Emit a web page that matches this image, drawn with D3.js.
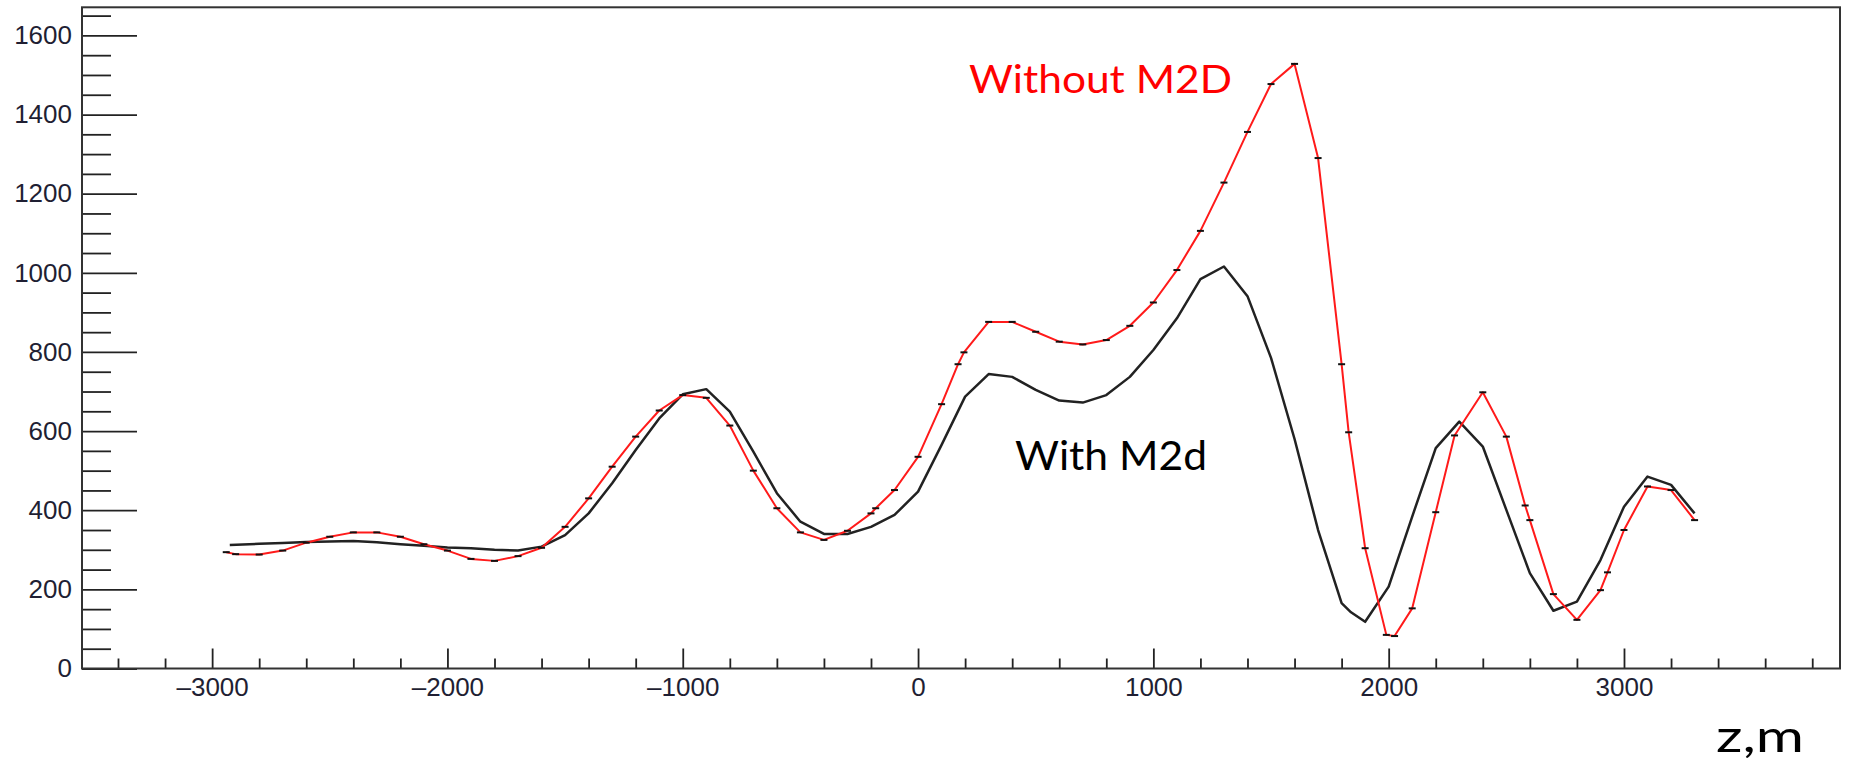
<!DOCTYPE html>
<html>
<head>
<meta charset="utf-8">
<script src="https://cdn.jsdelivr.net/npm/d3@7"></script>
<style>
  html, body { margin: 0; padding: 0; background: #fff; }
  svg { display: block; }
</style>
</head>
<body>
<svg id="chart" width="1849" height="765"></svg>
<script>
// ---- data ----
const zRed = [-2940, -2900, -2800, -2700, -2600, -2500, -2400, -2300, -2200, -2100,
  -2000, -1900, -1800, -1700, -1600, -1500, -1400, -1300, -1200, -1100,
  -1000, -900, -800, -700, -600, -500, -400, -300, -200, -180,
  -100, 0, 100, 170, 195, 300, 400, 500, 600, 700,
  800, 900, 1000, 1100, 1200, 1300, 1400, 1500, 1600, 1700,
  1800, 1830, 1900, 1990, 2025, 2100, 2200, 2280, 2400, 2500,
  2580, 2600, 2700, 2800, 2900, 2930, 3000, 3100, 3200, 3300];
const vRed = [294, 289, 288, 298, 318, 333, 344, 344, 333, 314,
  298, 277, 272, 284, 305, 358, 430, 510, 586, 652,
  691, 684, 614, 500, 405, 344, 325, 348, 392, 405,
  451, 535, 668, 769, 799, 876, 876, 851, 826, 819,
  830, 866, 925, 1007, 1106, 1228, 1356, 1477, 1528, 1290,
  769, 597, 304, 85, 82, 152, 395, 589, 698, 586,
  412, 375, 188, 123, 198, 243, 350, 460, 451, 375];

const zBlack = [-2925, -2800, -2700, -2600, -2500, -2400, -2300, -2200, -2100,
  -2000, -1900, -1800, -1700, -1600, -1500, -1400, -1300, -1200, -1100,
  -1000, -900, -800, -700, -600, -500, -400, -300, -200, -100,
  0, 100, 200, 300, 400, 500, 600, 700, 800, 900,
  1000, 1100, 1200, 1300, 1400, 1500, 1600, 1700, 1800, 1840,
  1900, 2000, 2100, 2200, 2300, 2400, 2500, 2600, 2700, 2800,
  2900, 3000, 3100, 3200, 3300];
const vBlack = [312, 315, 317, 320, 321, 322, 319, 314, 310,
  306, 304, 300, 298, 308, 337, 392, 468, 552, 632,
  693, 706, 649, 548, 443, 371, 340, 340, 358, 388,
  447, 565, 687, 744, 737, 704, 677, 672, 691, 737,
  805, 885, 984, 1016, 941, 785, 580, 350, 165, 142,
  118, 207, 384, 557, 624, 561, 401, 241, 146, 169,
  274, 409, 485, 464, 392];

const xMajorTicks = [-3000, -2000, -1000, 0, 1000, 2000, 3000];
const yMajorTicks = [0, 200, 400, 600, 800, 1000, 1200, 1400, 1600];
const labelWithout = "Without M2D";
const labelWith = "With M2d";
const xTitle = "z,m";

// ---- layout ----
const svg = d3.select("#chart");
const L = 82, R = 1840, T = 7.3, B = 668.5;
const x = d3.scaleLinear().domain([-3553, 3918]).range([L, R]);
const y = d3.scaleLinear().domain([0, 1671]).range([B, T]);

const xMinor = d3.range(-3400, 3801, 200).filter(v => !xMajorTicks.includes(v));
const yMinor = d3.range(50, 1651, 50).filter(v => !yMajorTicks.includes(v));

const fmt = d => d < 0 ? "\u2013" + Math.abs(d) : String(d);
const tickFont = "'Liberation Sans', Arial, Helvetica, sans-serif";

// x axis
const gx = svg.append("g").attr("transform", `translate(0,${B})`);
gx.call(d3.axisBottom(x).tickValues(xMajorTicks).tickSizeInner(-20).tickSizeOuter(0)
  .tickPadding(9).tickFormat(fmt));
const gxm = svg.append("g").attr("transform", `translate(0,${B})`);
gxm.call(d3.axisBottom(x).tickValues(xMinor).tickSizeInner(-10).tickSizeOuter(0).tickFormat(""));

// y axis
const gy = svg.append("g").attr("transform", `translate(${L},0)`);
gy.call(d3.axisLeft(y).tickValues(yMajorTicks).tickSizeInner(-55).tickSizeOuter(0)
  .tickPadding(10).tickFormat(fmt));
const gym = svg.append("g").attr("transform", `translate(${L},0)`);
gym.call(d3.axisLeft(y).tickValues(yMinor).tickSizeInner(-29).tickSizeOuter(0).tickFormat(""));

svg.selectAll(".domain").remove();
svg.selectAll(".tick line").attr("stroke", "#222").attr("stroke-width", 1.8);
svg.selectAll(".tick text")
  .attr("font-family", tickFont)
  .attr("font-size", 26)
  .attr("fill", "#1f1f33");

// frame
svg.append("rect")
  .attr("x", L).attr("y", T).attr("width", R - L).attr("height", B - T)
  .attr("fill", "none").attr("stroke", "#333").attr("stroke-width", 2);

// lines
const blackPts = zBlack.map((z, i) => [z, vBlack[i]]);
const redPts = zRed.map((z, i) => [z, vRed[i]]);
const line = d3.line().x(d => x(d[0])).y(d => y(d[1]));

svg.append("path").datum(blackPts).attr("d", line)
  .attr("fill", "none").attr("stroke", "#222").attr("stroke-width", 2.5)
  .attr("stroke-linejoin", "round");
svg.append("path").datum(redPts).attr("d", line)
  .attr("fill", "none").attr("stroke", "#ff1a1a").attr("stroke-width", 2)
  .attr("stroke-linejoin", "round");

// point markers on red curve
svg.append("g").selectAll("line").data(redPts).join("line")
  .attr("x1", d => x(d[0]) - 3.5).attr("x2", d => x(d[0]) + 3.5)
  .attr("y1", d => y(d[1])).attr("y2", d => y(d[1]))
  .attr("stroke", "#111").attr("stroke-width", 2);

// annotations
const annFont = "Lato, 'Open Sans', 'Noto Sans', sans-serif";
svg.append("text").text(labelWithout)
  .attr("x", 969).attr("y", 92.5)
  .attr("font-family", annFont).attr("font-size", 39)
  .attr("fill", "#ff0000")
  .attr("textLength", 263).attr("lengthAdjust", "spacingAndGlyphs");
svg.append("text").text(labelWith)
  .attr("x", 1015).attr("y", 470)
  .attr("font-family", annFont).attr("font-size", 40)
  .attr("fill", "#000")
  .attr("textLength", 192).attr("lengthAdjust", "spacingAndGlyphs");
svg.append("text").text(xTitle)
  .attr("x", 1716).attr("y", 752)
  .attr("font-family", annFont).attr("font-size", 44)
  .attr("fill", "#000")
  .attr("textLength", 88).attr("lengthAdjust", "spacingAndGlyphs");
</script>
</body>
</html>
